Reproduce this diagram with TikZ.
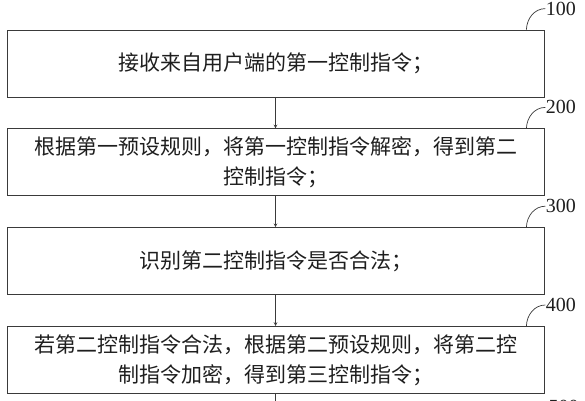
\documentclass[tikz,border=0pt]{standalone}
\usepackage{fontspec}
\setmainfont{Liberation Serif}
\newfontfamily\cjk{Noto Sans CJK SC}
\usepackage{tikz}
\usetikzlibrary{arrows,positioning,calc}
\definecolor{cLine}{HTML}{3A3A3A}
\definecolor{cText}{HTML}{1E1E1E}
\tikzset{
  stepbox/.style = {draw=cLine, line width=0.8pt, minimum width=537pt, minimum height=67pt,
                    inner sep=0pt, align=center, text=cText,
                    font=\cjk\fontsize{21}{30}\selectfont},
  flow/.style    = {cLine, line width=0.7pt, -stealth},
  tag/.style     = {cLine, line width=0.7pt},
  tagnum/.style  = {text=cText, anchor=west, inner sep=0pt,
                    font=\fontsize{20}{20}\selectfont},
}

\begin{document}
\begin{tikzpicture}[x=1pt, y=1pt, node distance=31pt]
  \useasboundingbox (0,0) rectangle (585,-400);
  \clip (0,0) rectangle (585,-400);
  % steps
  \node[stepbox] (recv) at (275.5,-63.5) {接收来自用户端的第一控制指令；};
  \node[stepbox, below=of recv] (decrypt) {根据第一预设规则，将第一控制指令解密，得到第二\\控制指令；};
  \node[stepbox, below=of decrypt] (check) {识别第二控制指令是否合法；};
  \node[stepbox, below=of check] (encrypt) {若第二控制指令合法，根据第二预设规则，将第二控\\制指令加密，得到第三控制指令；};
  % flow between steps
  \draw[flow] (recv) -- (decrypt);
  \draw[flow] (decrypt) -- (check);
  \draw[flow] (check) -- (encrypt);
  \coordinate (next) at ($(encrypt.south)+(0,-31)$);
  \draw[flow] (encrypt) -- (next);
  % step numbers
  \foreach \b/\n in {recv/100, decrypt/200, check/300, encrypt/400} {
    \draw[tag] ($(\b.north east)+(-18,0)$) to[out=88,in=180] ($(\b.north east)+(1,21)$)
      node[tagnum] (\b-num) {\n};
  }
  \node[tagnum] (next-num) at ($(encrypt.south east)+(4,-13)$) {500};
\end{tikzpicture}
\end{document}
